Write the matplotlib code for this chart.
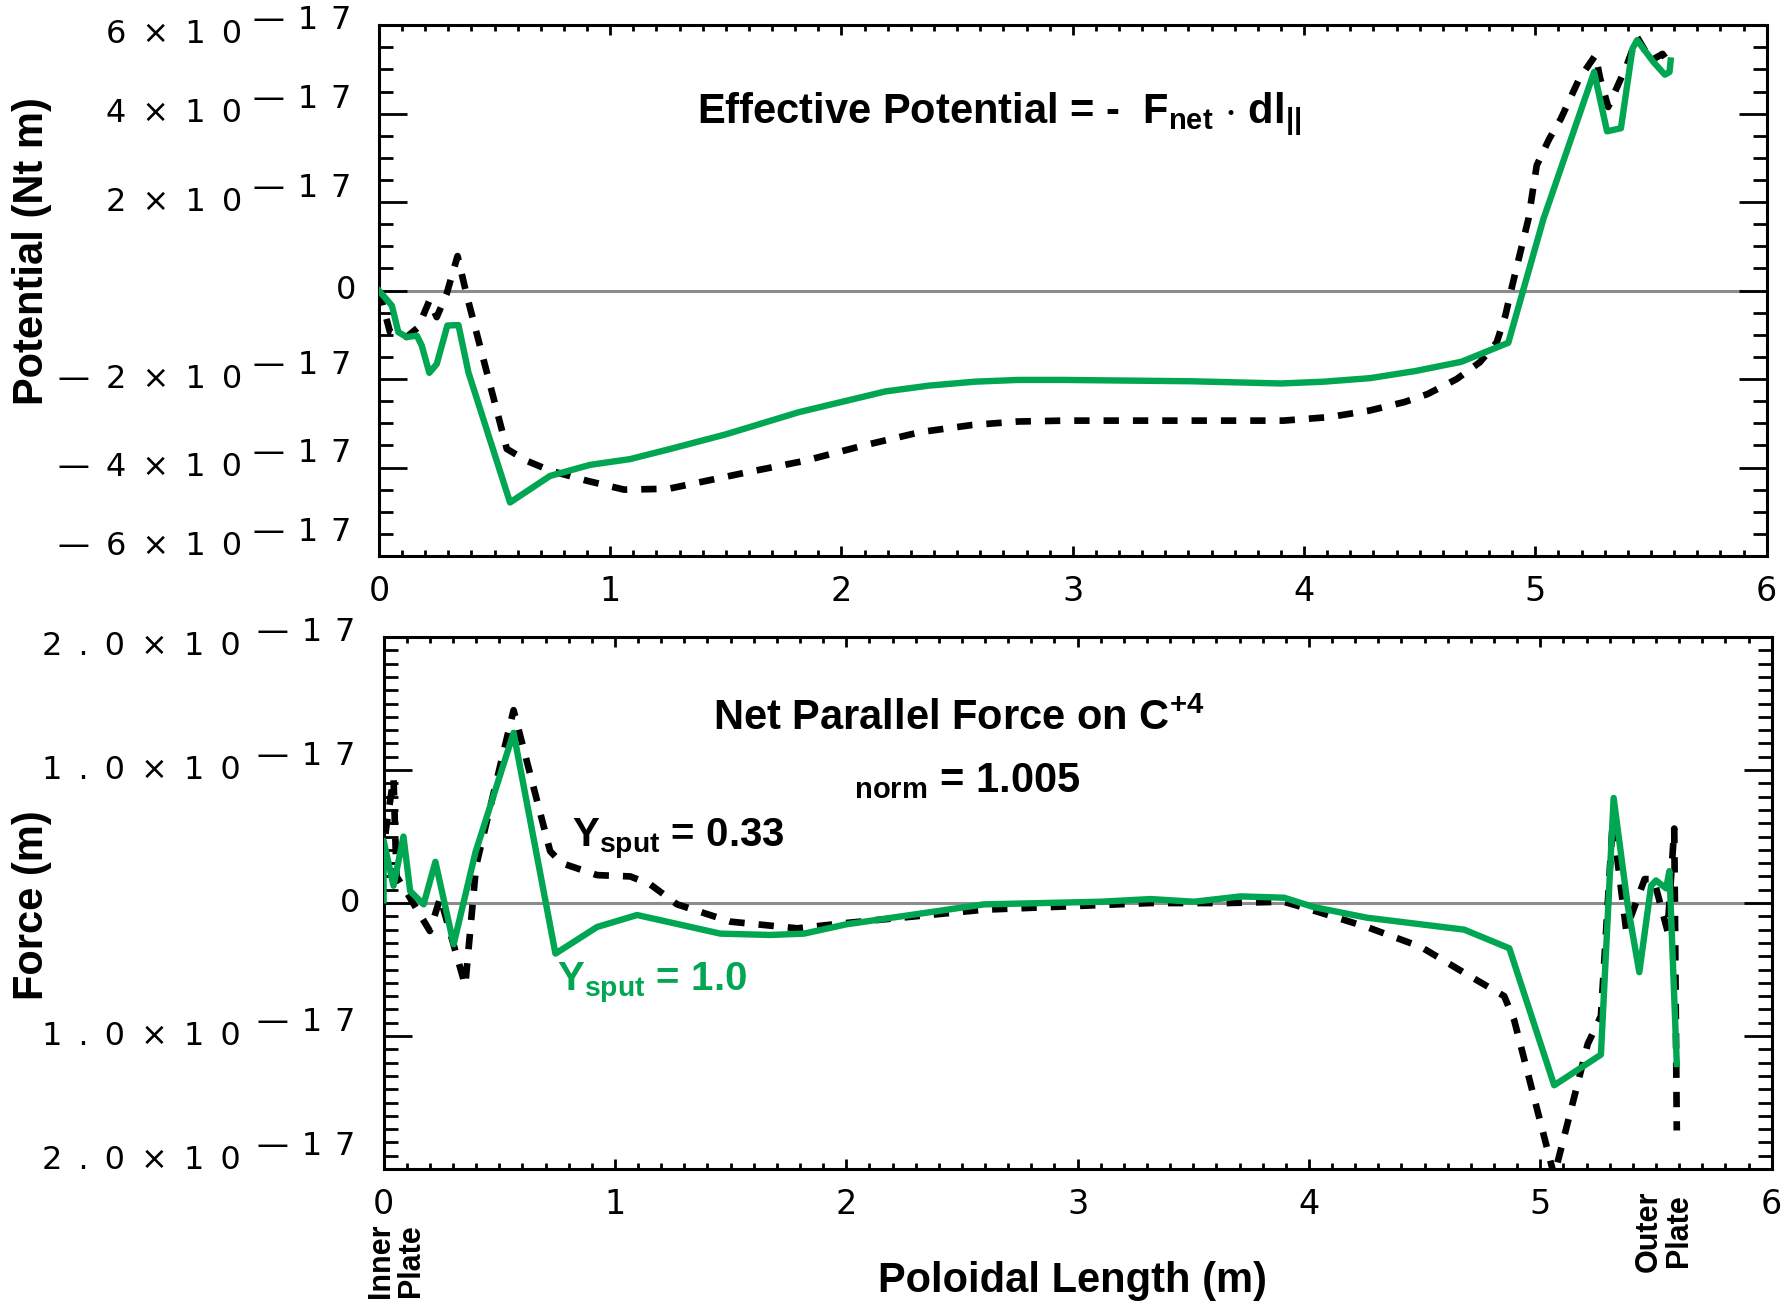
import numpy as np
import matplotlib
matplotlib.use('Agg')
import matplotlib.pyplot as plt
from matplotlib.ticker import MultipleLocator

plt.rcParams['font.family'] = ['Liberation Sans', 'DejaVu Sans']
plt.rcParams['mathtext.default'] = 'regular'

E17 = 1e-17
GREEN = '#00a651'

# --- effective potential (units of 1e-17 Nt m) ---
pot_x_green = [0, 0.056, 0.084, 0.12, 0.164, 0.185, 0.218, 0.25, 0.296, 0.344, 0.387,
               0.567, 0.74, 0.913, 1.086, 1.26, 1.5, 1.815, 2.19, 2.376, 2.575, 2.763,
               2.963, 3.51, 3.9, 4.085, 4.285, 4.48, 4.68, 4.883, 5.035, 5.254, 5.31,
               5.37, 5.42, 5.44, 5.51, 5.56, 5.58, 5.585]
pot_green = [0, -0.34, -0.94, -1.05, -1.02, -1.24, -1.86, -1.66, -0.79, -0.78, -1.85,
             -4.79, -4.19, -3.94, -3.81, -3.58, -3.25, -2.75, -2.28, -2.15, -2.06, -2.02,
             -2.02, -2.05, -2.1, -2.06, -1.98, -1.82, -1.61, -1.18, 1.62, 4.94, 3.6,
             3.67, 5.47, 5.66, 5.17, 4.88, 4.94, 5.2]

pot_x_black = [0, 0.048, 0.12, 0.17, 0.218, 0.25, 0.293, 0.34, 0.38, 0.553, 0.64, 0.74,
               0.9, 1.06, 1.253, 1.59, 1.84, 2.09, 2.34, 2.563, 2.763, 2.963, 3.91, 4.11,
               4.285, 4.434, 4.534, 4.66, 4.76, 4.833, 4.87, 4.9, 4.97, 5.006, 5.06, 5.11,
               5.19, 5.26, 5.28, 5.315, 5.395, 5.44, 5.5, 5.55, 5.57, 5.58]
pot_black = [0, -0.94, -1.05, -0.83, -0.23, -0.6, -0.07, 0.78, -0.11, -3.58, -3.85, -4.07,
             -4.3, -4.5, -4.48, -4.11, -3.85, -3.51, -3.2, -3.04, -2.96, -2.94, -2.94, -2.86,
             -2.71, -2.52, -2.34, -2.0, -1.62, -1.17, -0.57, 0.11, 1.62, 2.83, 3.43, 3.88,
             4.79, 5.32, 4.8, 4.15, 5.09, 5.73, 5.2, 5.35, 5.2, 5.42]

# --- net parallel force (units of 1e-17) ---
frc_x_green = [0, 0.0, 0.043, 0.086, 0.115, 0.173, 0.224, 0.303, 0.397, 0.562, 0.743,
               0.923, 1.096, 1.456, 1.672, 1.817, 2.0, 2.595, 3.1, 3.316, 3.503, 3.705,
               3.893, 4.02, 4.25, 4.484, 4.671, 4.866, 5.06, 5.262, 5.317, 5.378, 5.428,
               5.479, 5.5, 5.544, 5.558, 5.59]
frc_green = [0.02, 0.47, 0.13, 0.5, 0.09, -0.01, 0.31, -0.31, 0.38, 1.28, -0.38,
             -0.18, -0.09, -0.23, -0.24, -0.23, -0.16, -0.01, 0.01, 0.03, 0.01, 0.05,
             0.04, -0.03, -0.11, -0.16, -0.2, -0.34, -1.37, -1.14, 0.79, -0.02, -0.52,
             0.13, 0.17, 0.11, 0.24, -1.21]

frc_x_black = [0.0, 0.01, 0.043, 0.056, 0.1, 0.2, 0.245, 0.353, 0.4, 0.562, 0.72, 0.77,
               0.923, 1.067, 1.153, 1.269, 1.5, 1.788, 2.0, 2.595, 3.316, 3.64, 3.89, 3.99,
               4.25, 4.484, 4.686, 4.844, 4.887, 5.06, 5.205, 5.262, 5.313, 5.371, 5.451,
               5.49, 5.55, 5.579, 5.59]
frc_black = [0.3, 0.55, 0.94, 0.2, 0.08, -0.21, 0.04, -0.62, 0.28, 1.45, 0.39, 0.3,
             0.21, 0.2, 0.14, -0.01, -0.14, -0.19, -0.15, -0.05, 0.0, 0.0, 0.01, -0.04,
             -0.18, -0.33, -0.54, -0.7, -0.88, -2.05, -1.06, -0.85, 0.61, -0.2, 0.18,
             0.18, -0.21, 0.56, -1.71]

pot_ticks = [6, 4, 2, 0, -2, -4, -6]
pot_bases = ['6×10', '4×10', '2×10', '0', '—2×10', '—4×10', '—6×10']
frc_ticks = [2, 1, 0, -1, -2]
frc_bases = ['2.0×10', '1.0×10', '0', '1.0×10', '2.0×10']
exp_label = '—17'
x_ticks = [0, 1, 2, 3, 4, 5, 6]

PX = 0.72  # points per pixel at dpi 100
TICKFONT = 'DejaVu Sans'


def spaced(s, gap):
    return gap.join(s)


def draw_ylabels(ax, vals, bases, base_off, exp_off):
    tr = ax.get_yaxis_transform()
    n = len(vals)
    for i, (v, b) in enumerate(zip(vals, bases)):
        # end labels are pulled a little inside the axis range
        dy = -9 if i == 0 else (9 if i == n - 1 else 0)
        if b == '0':
            ax.annotate('0', xy=(0, v * E17), xycoords=tr, xytext=(-23 * PX, 0),
                        textcoords='offset points', ha='right', va='center',
                        fontsize=23, family=TICKFONT)
            continue
        ax.annotate(spaced(b, '\u2002'), xy=(0, v * E17), xycoords=tr,
                    xytext=(-base_off * PX, dy * PX), textcoords='offset points',
                    ha='right', va='center', fontsize=23, family=TICKFONT)
        ax.annotate(spaced(exp_label, '\u2009\u2009'), xy=(0, v * E17), xycoords=tr,
                    xytext=(-exp_off * PX, (dy + 14) * PX), textcoords='offset points',
                    ha='left', va='center', fontsize=23, family=TICKFONT)


def style_axes(ax, ymajor, yminor, ylim):
    ax.set_xlim(0, 6)
    ax.set_ylim(*ylim)
    ax.xaxis.set_major_locator(MultipleLocator(1))
    ax.xaxis.set_minor_locator(MultipleLocator(0.1))
    ax.yaxis.set_major_locator(MultipleLocator(ymajor))
    ax.yaxis.set_minor_locator(MultipleLocator(yminor))
    ax.tick_params(which='both', direction='in', top=True, right=True,
                   labelleft=False, width=2.0)
    ax.tick_params(axis='x', which='major', length=7.5, labelsize=24, pad=14)
    ax.tick_params(axis='x', which='minor', length=4)
    ax.tick_params(axis='y', which='major', length=20)
    ax.tick_params(axis='y', which='minor', length=10)
    for sp in ax.spines.values():
        sp.set_linewidth(2.2)
    ax.axhline(0, color='#8c8c8c', lw=2.2, zorder=1)
    ax.set_xticks(x_ticks)
    ax.set_xticklabels([str(t) for t in x_ticks], family=TICKFONT)


fig = plt.figure(figsize=(17.89, 13.03), dpi=100)

# top panel: effective potential
ax1 = fig.add_axes([0.2118, 0.5733, 0.7757, 0.4074])
ax1.plot(np.array(pot_x_black), np.array(pot_black) * E17, color='black', lw=4.8,
         linestyle=(0, (2.3, 2.1)), zorder=3)
ax1.plot(np.array(pot_x_green), np.array(pot_green) * E17, color=GREEN, lw=4.6,
         zorder=4)
style_axes(ax1, 2 * E17, 0.5 * E17, (-6 * E17, 6 * E17))
draw_ylabels(ax1, pot_ticks, pot_bases, 137, 126)

# bottom panel: net parallel force
ax2 = fig.add_axes([0.2144, 0.1028, 0.7759, 0.4083])
ax2.plot(np.array(frc_x_black), np.array(frc_black) * E17, color='black', lw=4.8,
         linestyle=(0, (2.3, 2.1)), zorder=3)
ax2.plot(np.array(frc_x_green), np.array(frc_green) * E17, color=GREEN, lw=4.6,
         zorder=4)
style_axes(ax2, 1 * E17, 0.1 * E17, (-2 * E17, 2 * E17))
draw_ylabels(ax2, frc_ticks, frc_bases, 143, 127)

# text
fig.text(0.3898, 0.9056, r'Effective Potential = -  F$_{net}$ $\cdot$ dl$_{||}$',
         fontsize=30, fontweight='bold', ha='left', va='baseline')
fig.text(0.3986, 0.4397, r'Net Parallel Force on C$^{+4}$',
         fontsize=30, fontweight='bold', ha='left', va='baseline')
fig.text(0.4771, 0.3922, r'$_{norm}$ = 1.005',
         fontsize=30, fontweight='bold', ha='left', va='baseline')
fig.text(0.3195, 0.3502, r'Y$_{sput}$ = 0.33',
         fontsize=29, fontweight='bold', ha='left', va='baseline')
fig.text(0.3112, 0.2402, r'Y$_{sput}$ = 1.0', color=GREEN,
         fontsize=29, fontweight='bold', ha='left', va='baseline')

fig.text(0.0179, 0.8074, 'Potential (Nt m)', rotation=90, fontsize=30,
         fontweight='bold', ha='center', va='center')
fig.text(0.0179, 0.3054, 'Force (m)', rotation=90, fontsize=30,
         fontweight='bold', ha='center', va='center')
fig.text(0.5995, 0.0085, 'Poloidal Length (m)', fontsize=30, fontweight='bold',
         ha='center', va='baseline')
fig.text(0.2215, 0.004, 'Inner\nPlate', rotation=90, fontsize=22, fontweight='bold',
         ha='center', va='bottom', linespacing=1.0)
fig.text(0.930, 0.024, 'Outer\nPlate', rotation=90, fontsize=22, fontweight='bold',
         ha='center', va='bottom', linespacing=1.0)

fig.savefig('out.png', dpi=100)
